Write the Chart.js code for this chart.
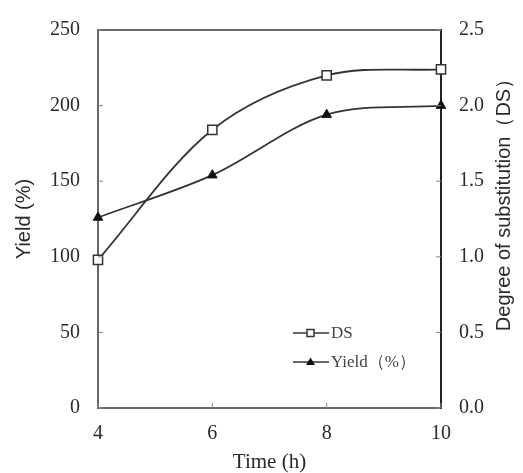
<!DOCTYPE html>
<html>
<head>
<meta charset="utf-8">
<script src="https://cdn.jsdelivr.net/npm/chart.js@4.4.0/dist/chart.umd.min.js"></script>
<style>
  html, body { margin: 0; padding: 0; background: #fff; }
</style>
</head>
<body>
<canvas id="dsChart" width="523" height="473"></canvas>
<script>
// values
const timeHours = [4, 6, 8, 10];
const dsValues = [0.98, 1.84, 2.20, 2.24];
const yieldValues = [126, 154, 194, 200];

const timeTicks = [4, 6, 8, 10];
const yieldTicks = [0, 50, 100, 150, 200, 250];
const dsTicks = [0, 0.5, 1.0, 1.5, 2.0, 2.5];

const SERIF = '"Liberation Serif", "Times New Roman", serif';
const SANS = '"Liberation Sans", Arial, sans-serif';
const INK = '#2a2a2a';

function toTicks(list) {
    return list.map(v => ({ value: v }));
}

// box top edge, inward tick marks, right title and legend
const framePlugin = {
    id: 'frame',
    afterDraw(chart) {
        const { ctx, chartArea: a, scales } = chart;
        ctx.save();

        ctx.strokeStyle = '#666';
        ctx.lineWidth = 2;
        ctx.beginPath();
        ctx.moveTo(a.left - 1, a.top);
        ctx.lineTo(a.right, a.top);
        ctx.stroke();

        ctx.strokeStyle = '#888';
        ctx.lineWidth = 1;
        ctx.beginPath();
        yieldTicks.forEach(v => {
            const y = scales.y.getPixelForValue(v);
            ctx.moveTo(a.left, y); ctx.lineTo(a.left + 5, y);
        });
        dsTicks.forEach(v => {
            const y = scales.yDS.getPixelForValue(v);
            ctx.moveTo(a.right, y); ctx.lineTo(a.right - 5, y);
        });
        timeTicks.forEach(v => {
            const x = scales.x.getPixelForValue(v);
            ctx.moveTo(x, a.bottom); ctx.lineTo(x, a.bottom - 5);
        });
        ctx.stroke();

        // right axis title reads bottom-to-top
        ctx.fillStyle = INK;
        ctx.font = '20px ' + SANS;
        ctx.textAlign = 'center';
        ctx.textBaseline = 'middle';
        ctx.translate(504, 200);
        ctx.rotate(-Math.PI / 2);
        ctx.fillText('Degree of substitution（DS）', 0, 0);
        ctx.setTransform(1, 0, 0, 1, 0, 0);

        // legend: line through marker, then label
        const rows = [
            { label: 'DS', y: 333, marker: 'rect' },
            { label: 'Yield（%）', y: 362, marker: 'tri' }
        ];
        ctx.font = '17px ' + SERIF;
        ctx.textAlign = 'left';
        rows.forEach(r => {
            ctx.strokeStyle = '#333';
            ctx.lineWidth = 1.5;
            ctx.beginPath();
            ctx.moveTo(293, r.y); ctx.lineTo(329, r.y);
            ctx.stroke();
            if (r.marker === 'rect') {
                ctx.fillStyle = '#fff';
                ctx.fillRect(307, r.y - 3.5, 7, 7);
                ctx.strokeRect(307, r.y - 3.5, 7, 7);
            } else {
                ctx.fillStyle = '#111';
                ctx.beginPath();
                ctx.moveTo(310.5, r.y - 4.5);
                ctx.lineTo(315, r.y + 3);
                ctx.lineTo(306, r.y + 3);
                ctx.closePath();
                ctx.fill();
            }
            ctx.fillStyle = '#444';
            ctx.fillText(r.label, 331, r.y + 1);
        });
        ctx.restore();
    }
};

new Chart(document.getElementById('dsChart'), {
    type: 'line',
    data: {
        datasets: [
            {
                label: 'DS',
                data: timeHours.map((t, i) => ({ x: t, y: dsValues[i] })),
                yAxisID: 'yDS',
                borderColor: '#333',
                borderWidth: 1.8,
                tension: 0.33,
                pointStyle: 'rect',
                pointRadius: 6.5,
                pointBackgroundColor: '#fff',
                pointBorderColor: '#333',
                pointBorderWidth: 1.5,
                clip: false
            },
            {
                label: 'Yield（%）',
                data: timeHours.map((t, i) => ({ x: t, y: yieldValues[i] })),
                yAxisID: 'y',
                borderColor: '#333',
                borderWidth: 1.8,
                tension: 0.33,
                pointStyle: 'triangle',
                pointRadius: 5.5,
                pointBackgroundColor: '#111',
                pointBorderColor: '#111',
                pointBorderWidth: 1,
                clip: false
            }
        ]
    },
    options: {
        responsive: false,
        animation: false,
        layout: { padding: { top: 21, left: 0, right: 0, bottom: 0 } },
        plugins: { legend: { display: false }, tooltip: { enabled: false } },
        scales: {
            x: {
                type: 'linear',
                min: 4,
                max: 10,
                afterBuildTicks: s => { s.ticks = toTicks(timeTicks); },
                afterFit: s => { s.height = 65; },
                grid: { drawOnChartArea: false, drawTicks: false },
                border: { color: '#666', width: 2 },
                ticks: { color: INK, padding: 14, font: { family: SERIF, size: 20 } },
                title: {
                    display: true,
                    text: 'Time (h)',
                    color: INK,
                    padding: 0,
                    font: { family: SERIF, size: 21, lineHeight: 1 }
                }
            },
            y: {
                position: 'left',
                min: 0,
                max: 250,
                afterBuildTicks: s => { s.ticks = toTicks(yieldTicks); },
                afterFit: s => { s.width = 98; },
                grid: { drawOnChartArea: false, drawTicks: false },
                border: { color: '#666', width: 2 },
                ticks: { color: INK, padding: 18, font: { family: SERIF, size: 20 } },
                title: {
                    display: true,
                    text: 'Yield (%)',
                    color: INK,
                    padding: { top: 14, bottom: 0 },
                    font: { family: SANS, size: 20, lineHeight: 1 }
                }
            },
            yDS: {
                position: 'right',
                min: 0,
                max: 2.5,
                afterBuildTicks: s => { s.ticks = toTicks(dsTicks); },
                afterFit: s => { s.width = 82; },
                grid: { drawOnChartArea: false, drawTicks: false },
                border: { color: '#222', width: 2 },
                ticks: {
                    color: INK,
                    padding: 18,
                    font: { family: SERIF, size: 20 },
                    callback: v => v.toFixed(1)
                }
            }
        }
    },
    plugins: [framePlugin]
});
</script>
</body>
</html>
